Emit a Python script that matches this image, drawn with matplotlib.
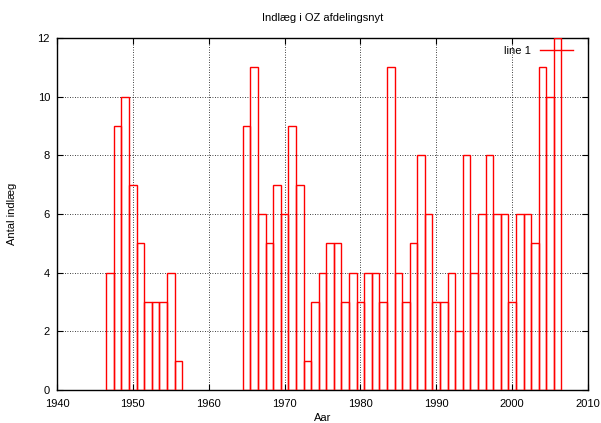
import numpy as np
import matplotlib
matplotlib.use('Agg')
import matplotlib.pyplot as plt
from matplotlib.lines import Line2D

# Posts per year
years_early = list(range(1947, 1957))
counts_early = [4, 9, 10, 7, 5, 3, 3, 3, 4, 1]
years_late = list(range(1965, 2007))
counts_late = [9, 11, 6, 5, 7, 6, 9, 7, 1, 3,
               4, 5, 5, 3, 4, 3, 4, 4, 3, 11,
               4, 3, 5, 8, 6, 3, 3, 4, 2, 8,
               4, 6, 8, 6, 6, 3, 6, 6, 5, 11,
               10, 12]

years = years_early + years_late
counts = counts_early + counts_late

plt.rcParams['font.family'] = ['Liberation Sans', 'DejaVu Sans']
plt.rcParams['font.size'] = 8

fig = plt.figure(figsize=(6.01, 4.23), dpi=100)
ax = fig.add_axes([57 / 601, 33 / 423, 531 / 601, 352 / 423])

ax.bar(years, counts, width=1.0, fill=False, edgecolor='red', linewidth=1.0, zorder=3)

ax.set_xlim(1940, 2010)
ax.set_ylim(0, 12)
ax.set_xticks(np.arange(1940, 2011, 10))
ax.set_yticks(np.arange(0, 13, 2))
ax.tick_params(direction='in', top=True, right=True, length=4, width=0.8)
ax.tick_params(axis='x', pad=6.5)
ax.tick_params(axis='y', pad=5)
ax.grid(True, color='black', linestyle=(0, (1, 2)), linewidth=0.6)
for s in ax.spines.values():
    s.set_linewidth(1.0)

ax.set_title('Indlæg i OZ afdelingsnyt', fontsize=8, pad=12)
ax.set_xlabel('Aar', labelpad=3)
ax.set_ylabel('Antal indlæg', labelpad=15)

handle = Line2D([], [], color='red', linewidth=1.0)
ax.legend([handle], ['line 1'], loc='upper right', bbox_to_anchor=(0.987, 1.0),
          frameon=False, markerfirst=False, handlelength=3.0,
          borderaxespad=0.3, fontsize=8)

fig.savefig('out.png', dpi=100)
